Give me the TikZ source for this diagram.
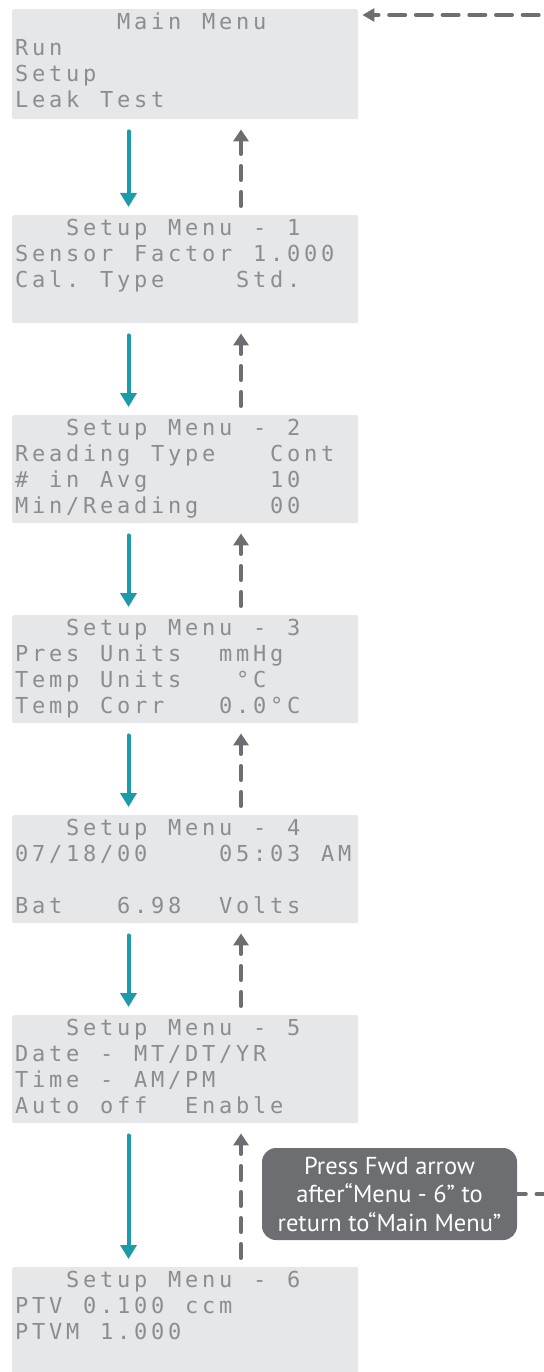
\documentclass[tikz,border=0pt]{standalone}
\usepackage{fontspec}
\usetikzlibrary{arrows.meta,calc}

\newfontfamily\lcdfont{DejaVu Sans Mono}
\newfontfamily\notefont{PT Sans}

\definecolor{lcdback}{RGB}{230,231,232}
\definecolor{lcdink}{RGB}{140,141,144}
\definecolor{fwdteal}{RGB}{28,155,171}
\definecolor{backgrey}{RGB}{109,110,113}

% one LCD row: every character sits in a 17pt cell, _ is an empty cell
\makeatletter
\def\lcd@stop{\lcd@stop}
\newcommand\lcdrow[1]{\strut\lcd@next#1\lcd@stop}
\def\lcd@next#1{\ifx#1\lcd@stop\expandafter\@gobble\else\expandafter\@firstofone\fi{\lcd@cell#1\lcd@next}}
\def\lcd@cell#1{\ifx#1_\hbox to 17pt{}\else\hbox to 17pt{\hss#1\hss}\fi}
\makeatother

% screen: name, top, four rows
\newcommand\lcdscreen[7][]{%
  \node[screen,#1] (#2) at (12,#3) {};
  \node[screentext] (#2-txt) at ($(#2.north west)+(1,2)$) {\lcdrow{#4}\\\lcdrow{#5}\\\lcdrow{#6}\\\lcdrow{#7}};
}

\begin{document}
\begin{tikzpicture}[x=1pt,y=1pt,yscale=-1,
  screen/.style={fill=lcdback,rounded corners=2pt,minimum width=346pt,minimum height=108pt,inner sep=0pt,anchor=north west},
  screentext/.style={anchor=north west,inner sep=0pt,align=left,text=lcdink,font=\lcdfont\fontsize{22}{26}\selectfont},
  note/.style={fill=backgrey,text=white,rounded corners=14pt,minimum width=255pt,minimum height=92pt,inner sep=0pt,align=center,font=\notefont\fontsize{24.5}{28.5}\selectfont},
  fwdline/.style={fwdteal,line width=4pt,line cap=round,-{Triangle[width=16pt,length=14pt]}},
  backline/.style={backgrey,line width=4pt,line cap=round,dash pattern=on 14pt off 12pt,-{Triangle[width=15pt,length=12pt]}},
  retline/.style={backgrey,line width=4pt,line cap=round,dash pattern=on 16pt off 10.7pt,dash phase=7.4pt,-{Triangle[width=13pt,length=12pt]}}]
\useasboundingbox (0,0) rectangle (543,1372);

%Shape: LCD screens
\lcdscreen[minimum height=110pt]{main}{9}{______Main_Menu}{Run}{Setup}{Leak_Test}
\lcdscreen{set1}{215}{___Setup_Menu_-_1}{Sensor_Factor_1.000}{Cal._Type____Std.}{}
\lcdscreen{set2}{415}{___Setup_Menu_-_2}{Reading_Type___Cont}{\#_in_Avg_______10}{Min/Reading____00}
\lcdscreen{set3}{615}{___Setup_Menu_-_3}{Pres_Units__mmHg}{Temp_Units___°C}{Temp_Corr___0.0°C}
\lcdscreen{set4}{815}{___Setup_Menu_-_4}{07/18/00____05:03_AM}{}{Bat___6.98__Volts}
\lcdscreen{set5}{1015}{___Setup_Menu_-_5}{Date_-_MT/DT/YR}{Time_-_AM/PM}{Auto_off__Enable}
\lcdscreen{set6}{1267}{___Setup_Menu_-_6}{PTV_0.100_ccm}{PTVM_1.000}{}

%Straight Lines: forward (down) and back (up)
\foreach \a/\b in {main/set1,set1/set2,set2/set3,set3/set4,set4/set5,set5/set6}{
  \draw[fwdline] ($(\a.south west)+(116.5,12)$) -- ($(\b.north west)+(116.5,-8)$);
  \draw[backline] ($(\b.north west)+(229,-9)$) -- ($(\a.south west)+(229,10)$);
}

% Text Node
\node[note] (note) at (389.5,1194) {Press Fwd arrow\\after“Menu - 6” to\\return to“Main Menu”};

%Return line to main menu
\coordinate (ret) at ($(main.north east)+(4,6)$);
\draw[retline] (note.east) -- ++(45,0) |- (ret);

\end{tikzpicture}
\end{document}
